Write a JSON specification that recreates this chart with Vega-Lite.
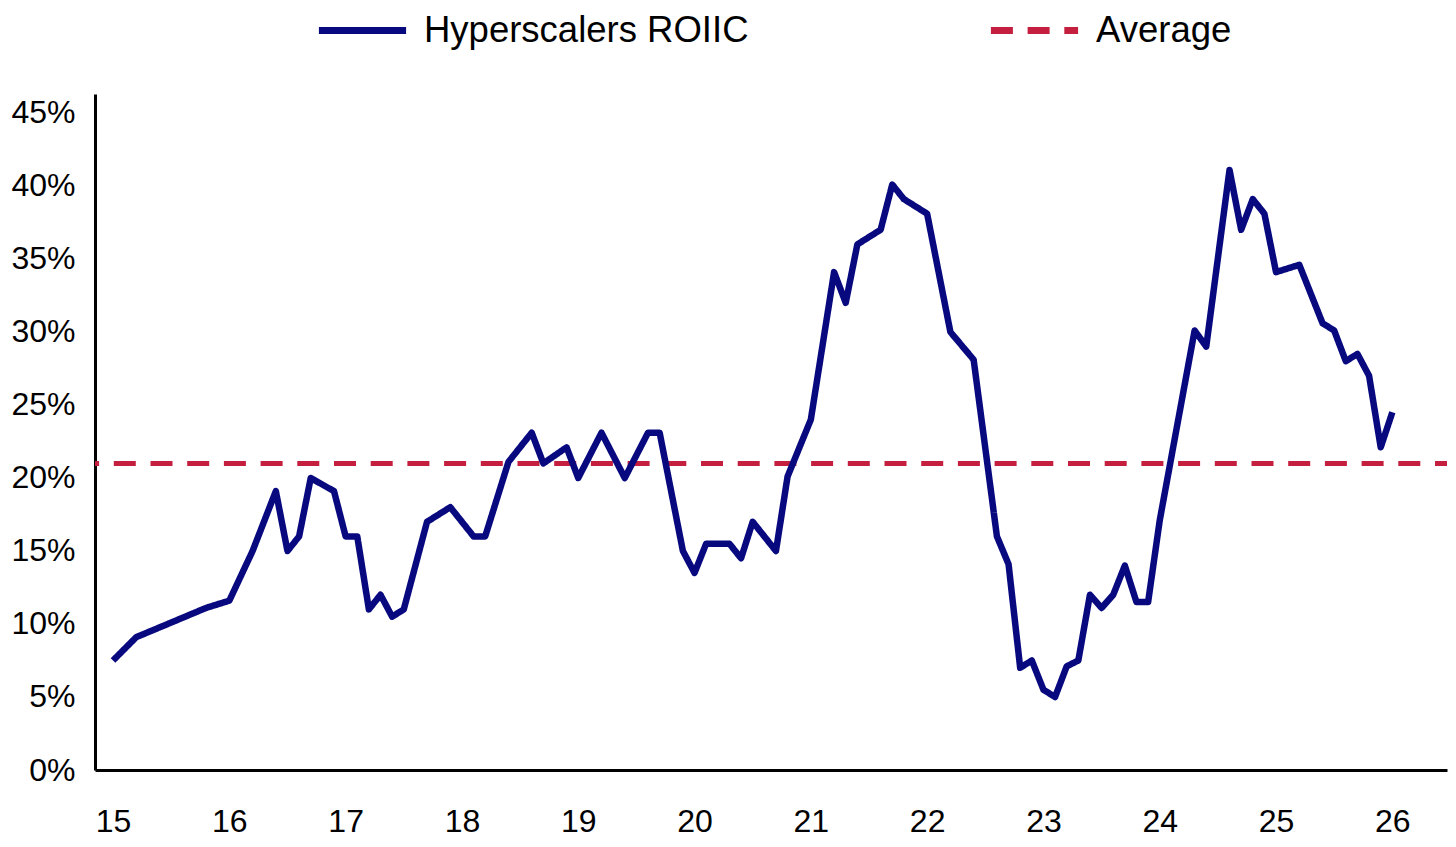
{
  "$schema": "https://vega.github.io/schema/vega-lite/v6.json",
  "width": 1352,
  "height": 676,
  "autosize": "none",
  "padding": {"left": 95, "top": 94, "right": 9, "bottom": 77},
  "background": "white",
  "config": {
    "view": {"stroke": null},
    "font": "Liberation Sans",
    "axis": {
      "grid": false,
      "ticks": false,
      "domainColor": "black",
      "domainWidth": 3,
      "labelColor": "black",
      "labelFont": "Liberation Sans",
      "labelFontSize": 32,
      "title": null
    },
    "legend": {
      "labelFont": "Liberation Sans",
      "labelFontSize": 36.5,
      "labelColor": "black",
      "labelLimit": 0
    }
  },
  "datasets": {
    "roiic": [
      {"t": 15.0, "roiic": 7.5, "series": "Hyperscalers ROIIC"},
      {"t": 15.2, "roiic": 9.1, "series": "Hyperscalers ROIIC"},
      {"t": 15.8, "roiic": 11.1, "series": "Hyperscalers ROIIC"},
      {"t": 16.0, "roiic": 11.6, "series": "Hyperscalers ROIIC"},
      {"t": 16.2, "roiic": 15.0, "series": "Hyperscalers ROIIC"},
      {"t": 16.4, "roiic": 19.1, "series": "Hyperscalers ROIIC"},
      {"t": 16.5, "roiic": 15.0, "series": "Hyperscalers ROIIC"},
      {"t": 16.6, "roiic": 16.0, "series": "Hyperscalers ROIIC"},
      {"t": 16.7, "roiic": 20.0, "series": "Hyperscalers ROIIC"},
      {"t": 16.9, "roiic": 19.1, "series": "Hyperscalers ROIIC"},
      {"t": 17.0, "roiic": 16.0, "series": "Hyperscalers ROIIC"},
      {"t": 17.1, "roiic": 16.0, "series": "Hyperscalers ROIIC"},
      {"t": 17.2, "roiic": 11.0, "series": "Hyperscalers ROIIC"},
      {"t": 17.3, "roiic": 12.0, "series": "Hyperscalers ROIIC"},
      {"t": 17.4, "roiic": 10.5, "series": "Hyperscalers ROIIC"},
      {"t": 17.5, "roiic": 11.0, "series": "Hyperscalers ROIIC"},
      {"t": 17.7, "roiic": 17.0, "series": "Hyperscalers ROIIC"},
      {"t": 17.9, "roiic": 18.0, "series": "Hyperscalers ROIIC"},
      {"t": 18.1, "roiic": 16.0, "series": "Hyperscalers ROIIC"},
      {"t": 18.2, "roiic": 16.0, "series": "Hyperscalers ROIIC"},
      {"t": 18.4, "roiic": 21.1, "series": "Hyperscalers ROIIC"},
      {"t": 18.6, "roiic": 23.1, "series": "Hyperscalers ROIIC"},
      {"t": 18.7, "roiic": 21.0, "series": "Hyperscalers ROIIC"},
      {"t": 18.9, "roiic": 22.1, "series": "Hyperscalers ROIIC"},
      {"t": 19.0, "roiic": 20.0, "series": "Hyperscalers ROIIC"},
      {"t": 19.2, "roiic": 23.1, "series": "Hyperscalers ROIIC"},
      {"t": 19.4, "roiic": 20.0, "series": "Hyperscalers ROIIC"},
      {"t": 19.6, "roiic": 23.1, "series": "Hyperscalers ROIIC"},
      {"t": 19.7, "roiic": 23.1, "series": "Hyperscalers ROIIC"},
      {"t": 19.9, "roiic": 15.0, "series": "Hyperscalers ROIIC"},
      {"t": 20.0, "roiic": 13.5, "series": "Hyperscalers ROIIC"},
      {"t": 20.1, "roiic": 15.5, "series": "Hyperscalers ROIIC"},
      {"t": 20.3, "roiic": 15.5, "series": "Hyperscalers ROIIC"},
      {"t": 20.4, "roiic": 14.5, "series": "Hyperscalers ROIIC"},
      {"t": 20.5, "roiic": 17.0, "series": "Hyperscalers ROIIC"},
      {"t": 20.7, "roiic": 15.0, "series": "Hyperscalers ROIIC"},
      {"t": 20.8, "roiic": 20.1, "series": "Hyperscalers ROIIC"},
      {"t": 21.0, "roiic": 24.0, "series": "Hyperscalers ROIIC"},
      {"t": 21.2, "roiic": 34.1, "series": "Hyperscalers ROIIC"},
      {"t": 21.3, "roiic": 32.0, "series": "Hyperscalers ROIIC"},
      {"t": 21.4, "roiic": 36.0, "series": "Hyperscalers ROIIC"},
      {"t": 21.6, "roiic": 37.0, "series": "Hyperscalers ROIIC"},
      {"t": 21.7, "roiic": 40.1, "series": "Hyperscalers ROIIC"},
      {"t": 21.8, "roiic": 39.1, "series": "Hyperscalers ROIIC"},
      {"t": 22.0, "roiic": 38.1, "series": "Hyperscalers ROIIC"},
      {"t": 22.2, "roiic": 30.0, "series": "Hyperscalers ROIIC"},
      {"t": 22.4, "roiic": 28.1, "series": "Hyperscalers ROIIC"},
      {"t": 22.6, "roiic": 16.0, "series": "Hyperscalers ROIIC"},
      {"t": 22.7, "roiic": 14.1, "series": "Hyperscalers ROIIC"},
      {"t": 22.8, "roiic": 7.0, "series": "Hyperscalers ROIIC"},
      {"t": 22.9, "roiic": 7.5, "series": "Hyperscalers ROIIC"},
      {"t": 23.0, "roiic": 5.5, "series": "Hyperscalers ROIIC"},
      {"t": 23.1, "roiic": 5.0, "series": "Hyperscalers ROIIC"},
      {"t": 23.2, "roiic": 7.1, "series": "Hyperscalers ROIIC"},
      {"t": 23.3, "roiic": 7.5, "series": "Hyperscalers ROIIC"},
      {"t": 23.4, "roiic": 12.0, "series": "Hyperscalers ROIIC"},
      {"t": 23.5, "roiic": 11.1, "series": "Hyperscalers ROIIC"},
      {"t": 23.6, "roiic": 12.0, "series": "Hyperscalers ROIIC"},
      {"t": 23.7, "roiic": 14.0, "series": "Hyperscalers ROIIC"},
      {"t": 23.8, "roiic": 11.5, "series": "Hyperscalers ROIIC"},
      {"t": 23.9, "roiic": 11.5, "series": "Hyperscalers ROIIC"},
      {"t": 24.0, "roiic": 17.1, "series": "Hyperscalers ROIIC"},
      {"t": 24.3, "roiic": 30.1, "series": "Hyperscalers ROIIC"},
      {"t": 24.4, "roiic": 29.0, "series": "Hyperscalers ROIIC"},
      {"t": 24.6, "roiic": 41.1, "series": "Hyperscalers ROIIC"},
      {"t": 24.7, "roiic": 37.0, "series": "Hyperscalers ROIIC"},
      {"t": 24.8, "roiic": 39.1, "series": "Hyperscalers ROIIC"},
      {"t": 24.9, "roiic": 38.1, "series": "Hyperscalers ROIIC"},
      {"t": 25.0, "roiic": 34.1, "series": "Hyperscalers ROIIC"},
      {"t": 25.2, "roiic": 34.6, "series": "Hyperscalers ROIIC"},
      {"t": 25.4, "roiic": 30.6, "series": "Hyperscalers ROIIC"},
      {"t": 25.5, "roiic": 30.1, "series": "Hyperscalers ROIIC"},
      {"t": 25.6, "roiic": 28.0, "series": "Hyperscalers ROIIC"},
      {"t": 25.7, "roiic": 28.5, "series": "Hyperscalers ROIIC"},
      {"t": 25.8, "roiic": 27.0, "series": "Hyperscalers ROIIC"},
      {"t": 25.9, "roiic": 22.1, "series": "Hyperscalers ROIIC"},
      {"t": 26.0, "roiic": 24.5, "series": "Hyperscalers ROIIC"}
    ],
    "average": [
      {"roiic": 21.0, "series": "Average"}
    ]
  },
  "layer": [
    {
      "data": {"name": "average"},
      "mark": {"type": "rule", "strokeWidth": 5, "strokeDashOffset": 10},
      "encoding": {
        "y": {"field": "roiic", "type": "quantitative"},
        "color": {"field": "series", "type": "nominal"},
        "strokeDash": {"field": "series", "type": "nominal"}
      }
    },
    {
      "data": {"name": "roiic"},
      "mark": {"type": "line", "strokeWidth": 6.5, "strokeJoin": "round"},
      "encoding": {
        "x": {
          "field": "t",
          "type": "quantitative",
          "scale": {"domain": [14.845, 26.47], "nice": false, "zero": false},
          "axis": {"values": [15, 16, 17, 18, 19, 20, 21, 22, 23, 24, 25, 26], "format": "d", "labelPadding": 36}
        },
        "y": {
          "field": "roiic",
          "type": "quantitative",
          "scale": {"domain": [0, 46.3], "nice": false},
          "axis": {"values": [0, 5, 10, 15, 20, 25, 30, 35, 40, 45], "labelExpr": "datum.value + '%'", "labelPadding": 20}
        },
        "color": {
          "field": "series",
          "type": "nominal",
          "scale": {"domain": ["Hyperscalers ROIIC", "Average"], "range": ["#08097f", "#c51f3f"]},
          "legend": {
            "title": null,
            "orient": "none",
            "direction": "horizontal",
            "legendX": 220,
            "legendY": -111,
            "symbolType": "stroke",
            "symbolSize": 7600,
            "symbolStrokeWidth": 7,
            "labelOffset": 14,
            "columnPadding": 227
          }
        },
        "strokeDash": {
          "field": "series",
          "type": "nominal",
          "scale": {"domain": ["Hyperscalers ROIIC", "Average"], "range": [[1, 0], [22, 14.7]]},
          "legend": null
        }
      }
    }
  ]
}
